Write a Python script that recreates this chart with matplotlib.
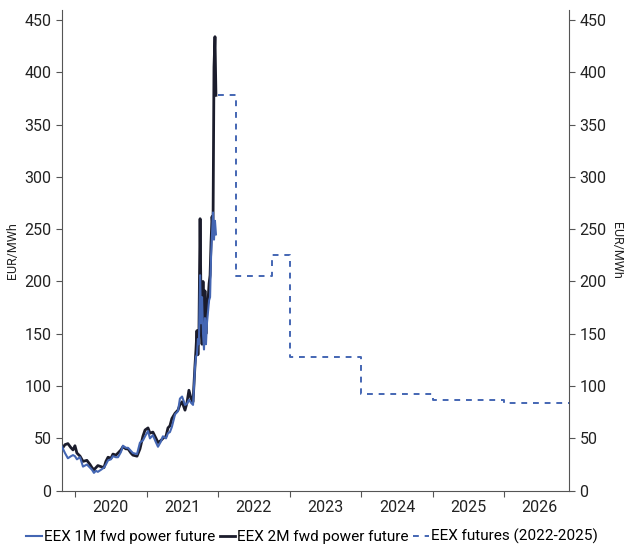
import numpy as np
import pandas as pd
import matplotlib
matplotlib.use("Agg")
import matplotlib.pyplot as plt
import matplotlib.dates as mdates

plt.rcParams['font.family'] = ['Roboto', 'DejaVu Sans']

# daily forward prices, EUR/MWh
dates = ['2019-10-27', '2019-11-11', '2019-11-26', '2019-12-12', '2019-12-22',
         '2020-01-01', '2020-01-11', '2020-01-27', '2020-02-11', '2020-03-02',
         '2020-03-18', '2020-03-28', '2020-04-07', '2020-04-17', '2020-04-27',
         '2020-05-13', '2020-05-28', '2020-06-07', '2020-06-18', '2020-07-03',
         '2020-07-13', '2020-07-28', '2020-08-08', '2020-08-23', '2020-09-02',
         '2020-09-17', '2020-09-28', '2020-10-13', '2020-10-23', '2020-11-13',
         '2020-11-28', '2020-12-13', '2020-12-24', '2021-01-08', '2021-01-18',
         '2021-02-02', '2021-02-18', '2021-02-28', '2021-03-15', '2021-03-25',
         '2021-04-10', '2021-04-20', '2021-04-30', '2021-05-10', '2021-05-26',
         '2021-06-10', '2021-06-20', '2021-07-01', '2021-07-16', '2021-07-26',
         '2021-08-05', '2021-08-16', '2021-08-26', '2021-09-05', '2021-09-10',
         '2021-09-15', '2021-09-20', '2021-09-25', '2021-10-01', '2021-10-06',
         '2021-10-11', '2021-10-16', '2021-10-21', '2021-10-26', '2021-10-31',
         '2021-11-05', '2021-11-10', '2021-11-16', '2021-11-21', '2021-11-26',
         '2021-12-01', '2021-12-06', '2021-12-11', '2021-12-16', '2021-12-21']

fwd_1m = [42, 36, 31, 33, 34, 33, 30, 32, 23, 25,
          22, 20, 17, 19, 18, 20, 22, 25, 29, 30,
          33, 32, 32, 37, 43, 41, 41, 38, 36, 35,
          46, 48, 52, 57, 50, 53, 46, 42, 47, 52,
          50, 55, 56, 61, 73, 76, 88, 90, 82, 83,
          87, 84, 82, 118, 128, 130, 145, 140, 206, 160,
          185, 150, 135, 165, 140, 160, 170, 182, 185, 224,
          245, 266, 240, 258, 245]

fwd_2m = [40, 44, 45, 41, 39, 43, 36, 33, 28, 29,
          25, 22, 20, 22, 24, 23, 22, 28, 32, 31,
          35, 34, 36, 39, 42, 40, 40, 36, 34, 33,
          40, 52, 58, 60, 55, 56, 50, 46, 48, 50,
          52, 60, 62, 69, 74, 77, 82, 85, 77, 84,
          96, 88, 85, 120, 135, 153, 130, 150, 260, 175,
          140, 200, 141, 191, 150, 175, 180, 198, 206, 238,
          262, 250, 405, 434, 378]

# EEX futures strip (Q1-22 ... Cal-26)
fut_dates = ['2022-01-01', '2022-04-01', '2022-07-01', '2022-10-01',
             '2023-01-01', '2024-01-01', '2025-01-01', '2026-01-01', '2026-11-28']
fut_vals = [378, 205, 205, 225, 128, 92, 87, 84, 84]

blue = '#4466b3'
dark = '#1b1c2c'
grey = '#555555'
txt = '#222222'

d = pd.to_datetime(dates)
fd = pd.to_datetime(fut_dates)

fig = plt.figure(figsize=(6.24, 5.46), dpi=100)
ax = fig.add_axes([0.0994, 0.1013, 0.8125, 0.8813])

ax.plot(d, fwd_2m, color=dark, lw=2.0, label='EEX 2M fwd power future', zorder=2)
ax.plot(d, fwd_1m, color=blue, lw=1.5, label='EEX 1M fwd power future', zorder=3)
ax.step(fd, fut_vals, where='post', color=blue, lw=1.4, ls=(0, (3, 3)),
        label='EEX futures (2022-2025)')

ax.set_xlim(pd.Timestamp('2019-10-27'), pd.Timestamp('2026-11-28'))
ax.set_ylim(0, 460)
ax.set_yticks(np.arange(0, 451, 50))

# year boundaries as ticks, year labels centred in between
ax.xaxis.set_major_locator(mdates.YearLocator())
ax.xaxis.set_major_formatter(plt.NullFormatter())
ax.xaxis.set_minor_locator(mdates.MonthLocator(bymonth=7, bymonthday=2))
ax.xaxis.set_minor_formatter(mdates.DateFormatter('%Y'))
ax.tick_params(axis='x', which='minor', length=0, labelsize=11.5, colors=txt, pad=7)
ax.tick_params(axis='x', which='major', length=4, color=grey)
ax.tick_params(axis='y', length=4, color=grey, labelsize=11.5, labelcolor=txt)

for s in ['top', 'right']:
    ax.spines[s].set_visible(False)
for s in ['left', 'bottom']:
    ax.spines[s].set_color(grey)

ax2 = ax.twinx()
ax2.set_ylim(ax.get_ylim())
ax2.set_yticks(np.arange(0, 451, 50))
ax2.tick_params(axis='y', length=4, color=grey, labelsize=11.5, labelcolor=txt)
for s in ['top', 'left', 'bottom']:
    ax2.spines[s].set_visible(False)
ax2.spines['right'].set_color(grey)

ax.set_ylabel('EUR/MWh', fontsize=9, color=txt, labelpad=4)
ax2.set_ylabel('EUR/MWh', fontsize=9, color=txt, rotation=270, labelpad=12)

h, l = ax.get_legend_handles_labels()
order = [1, 0, 2]
fig.legend([h[i] for i in order], [l[i] for i in order], loc='center',
           bbox_to_anchor=(0.5, 0.017), ncol=3, frameon=False, fontsize=11,
           handlelength=1.0, handletextpad=0.15, columnspacing=0.3)

fig.savefig('out.png', dpi=100)
